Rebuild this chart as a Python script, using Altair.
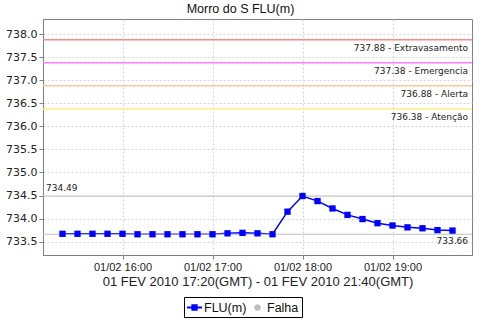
import altair as alt
import pandas as pd

# ---- data ----
times = ["15:20", "15:30", "15:40", "15:50", "16:00", "16:10", "16:20", "16:30", "16:40",
         "16:50", "17:00", "17:10", "17:20", "17:30", "17:40", "17:50", "18:00", "18:10",
         "18:20", "18:30", "18:40", "18:50", "19:00", "19:10", "19:20", "19:30", "19:40"]
values = [733.67, 733.67, 733.67, 733.67, 733.67, 733.66, 733.66, 733.66, 733.66,
          733.66, 733.66, 733.68, 733.69, 733.68, 733.66, 734.15, 734.49, 734.38,
          734.22, 734.08, 733.99, 733.90, 733.85, 733.81, 733.79, 733.75, 733.74]

threshold_values = [737.88, 737.38, 736.88, 736.38]
threshold_names = ["Extravasamento", "Emergencia", "Alerta", "Atenção"]
threshold_colors = ["#f08c8c", "#ff80ff", "#f5c898", "#ffee80"]

series_names = ["FLU(m)", "Falha"]
series_colors = ["#0000ff", "#c0c0c0"]

y_ticks = [733.5, 734.0, 734.5, 735.0, 735.5, 736.0, 736.5, 737.0, 737.5, 738.0]
x_tick_hours = [16, 17, 18, 19]

chart_title = "Morro do S FLU(m)"
x_title = "01 FEV 2010 17:20(GMT) - 01 FEV 2010 21:40(GMT)"

# ---- tables ----
df = pd.DataFrame({"t": ["2010-02-01T" + t + ":00Z" for t in times], "v": values})
thr = pd.DataFrame({
    "v": threshold_values,
    "label": [f"{v:.2f} - {n}" for v, n in zip(threshold_values, threshold_names)],
})
vmax, vmin = max(values), min(values)
extremes_max = pd.DataFrame({"v": [vmax], "label": [f"{vmax:.2f}"]})
extremes_min = pd.DataFrame({"v": [vmin], "label": [f"{vmin:.2f}"]})
legend_df = pd.DataFrame({"series": series_names})


def dt(h, m=0):
    return alt.DateTime(year=2010, month=2, date=1, hours=h, minutes=m, utc=True)


W, H = 429, 236
FONT = "Liberation Sans"
ANN_FONT = "DejaVu Sans"

x_axis = alt.Axis(
    values=[dt(h) for h in x_tick_hours],
    labelExpr="utcFormat(datum.value, '%d/%m %H:%M')",
    title=x_title, titleFont=FONT, titleFontSize=13, titleFontWeight="normal",
    titleColor="#222", titlePadding=3,
    labelFont=FONT, labelFontSize=11, labelColor="#222", labelPadding=2,
    grid=True, gridDash=[2, 2], gridColor="#d4d4d4", labelOverlap=False,
    domainColor="#808080", tickColor="#808080", tickSize=4, labelFlush=False,
)
x_scale = alt.Scale(type="utc", domain=[dt(15, 7), dt(19, 53)])
y_axis = alt.Axis(
    values=y_ticks, format=".1f", title=None, labelOverlap=False,
    labelFont=ANN_FONT, labelFontSize=11, labelColor="#222", labelPadding=2,
    grid=True, gridDash=[2, 2], gridColor="#d4d4d4",
    domainColor="#808080", tickColor="#808080", tickSize=4,
)
y_scale = alt.Scale(domain=[733.21, 738.33], nice=False, zero=False)


def X():
    return alt.X("t:T", scale=x_scale, axis=x_axis)


def Y():
    return alt.Y("v:Q", scale=y_scale, axis=y_axis)


base = alt.Chart(df)

line = base.mark_line(color=series_colors[0], strokeWidth=1.5).encode(x=X(), y=Y())
pts = base.mark_point(shape="square", filled=True, size=40, color=series_colors[0],
                      opacity=1).encode(x=X(), y=Y())

thr_rules = alt.Chart(thr).mark_rule(strokeWidth=1.5).encode(
    y=Y(),
    stroke=alt.Stroke("label:N", scale=alt.Scale(domain=list(thr["label"]), range=threshold_colors),
                      legend=None),
)
thr_text = alt.Chart(thr).mark_text(
    align="right", baseline="top", dy=4, font=ANN_FONT, fontSize=9, color="#222"
).encode(y=Y(), x=alt.value(W - 4), text="label:N")

max_rule = alt.Chart(extremes_max).mark_rule(color="#c0c0c0", strokeWidth=1.2).encode(y=Y())
min_rule = alt.Chart(extremes_min).mark_rule(color="#c0c0c0", strokeWidth=1.2).encode(y=Y())
max_text = alt.Chart(extremes_max).mark_text(
    align="left", baseline="bottom", dy=-3, font=ANN_FONT, fontSize=9, color="#222"
).encode(y=Y(), x=alt.value(3), text="label:N")
min_text = alt.Chart(extremes_min).mark_text(
    align="right", baseline="top", dy=3, font=ANN_FONT, fontSize=9, color="#222"
).encode(y=Y(), x=alt.value(W - 4), text="label:N")

flu_path = "M-1,-0.12H1V0.12H-1Z M-0.42,-0.42H0.42V0.42H-0.42Z"
falha_path = "M0.45,0A0.45,0.45,0,1,1,-0.45,0A0.45,0.45,0,1,1,0.45,0Z"

legend_layer = alt.Chart(legend_df).transform_filter("false").mark_point(
    filled=True, opacity=1
).encode(
    color=alt.Color(
        "series:N",
        scale=alt.Scale(domain=series_names, range=series_colors),
        legend=alt.Legend(
            orient="none", legendX=141, legendY=278, direction="horizontal", title=None,
            strokeColor="black", fillColor="white", padding=3, cornerRadius=0,
            symbolSize=225, symbolStrokeWidth=0, labelFont=FONT, labelFontSize=12.5,
            labelColor="#111", labelOffset=2, columnPadding=3,
        ),
    ),
    shape=alt.Shape("series:N", scale=alt.Scale(domain=series_names, range=[flu_path, falha_path])),
)

chart = alt.layer(
    line, thr_rules, max_rule, min_rule, pts, thr_text, max_text, min_text, legend_layer
).properties(
    width=W, height=H,
    title=alt.TitleParams(chart_title, font=FONT, fontSize=12.5, fontWeight="normal",
                          color="#111", anchor="middle", dx=-17, offset=4),
    autosize=alt.AutoSizeParams(type="none"),
    padding={"left": 43, "top": 19, "right": 8, "bottom": 65},
    background="white",
).configure_view(stroke="#808080", strokeWidth=1)

chart.save("out.html", embed_options={"renderer": "svg", "actions": False})
